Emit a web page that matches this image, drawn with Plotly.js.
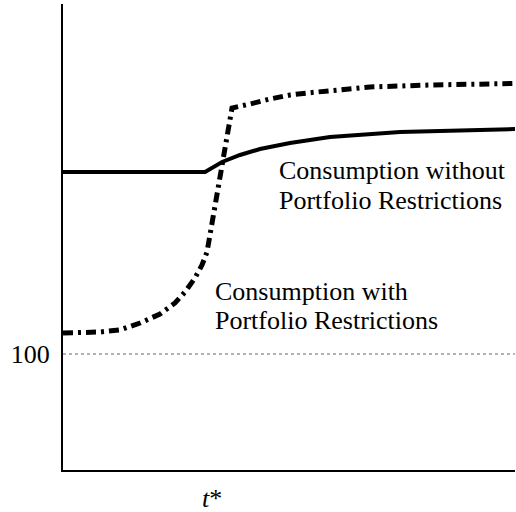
<!DOCTYPE html>
<html><head><meta charset="utf-8">
<script src="https://cdn.plot.ly/plotly-3.0.1.min.js"></script>
<style>html,body{margin:0;padding:0;background:#fff;}#chart{width:516px;height:512px;}</style>
</head><body><div id="chart"></div>
<script>
const timeWith = [0, 3.76, 8.19, 12.61, 17.04, 21.46, 24.78, 26.99, 29.20, 30.75, 31.86, 37.39, 38.72, 41.37, 45.80, 50.22, 54.65, 61.28, 67.92, 81.19, 100];
const consWith = [110.5, 110.5, 111, 112, 115.5, 120, 125.5, 131, 138, 144.5, 151, 223, 223.5, 225, 227.5, 229.5, 230.65, 232, 233.5, 234.5, 235.25];
const timeWithout = [0, 31.42, 35.2, 39.16, 43.58, 50.22, 59.07, 74.56, 100];
const consWithout = [191, 191, 196, 199.5, 202.5, 205.5, 208.5, 211, 212.5];
const refX = [0, 100];
const refY = [100, 100];
const tStar = 33;
const xTickVals = [tStar];
const xTickText = ['<i>t</i>*'];
const yTickVals = [100];
const yTickText = ['100'];

const font = "'Liberation Serif', 'Times New Roman', serif";
const traces = [
  {x: refX, y: refY, mode: 'lines', line: {color: '#666', width: 1, dash: 'dot'}, hoverinfo: 'skip'},
  {x: timeWithout, y: consWithout, mode: 'lines', line: {color: '#000', width: 4}},
  {x: timeWith, y: consWith, mode: 'lines', line: {color: '#000', width: 5, dash: '10px,5px,3px,5px'}}
];
const layout = {
  width: 516, height: 512,
  margin: {l: 63, r: 1, t: 4, b: 42},
  paper_bgcolor: '#fff', plot_bgcolor: '#fff',
  showlegend: false,
  font: {family: font, color: '#000', size: 26},
  xaxis: {range: [0, 100], showgrid: false, zeroline: false, showline: true, linecolor: '#000', linewidth: 2,
          tickvals: xTickVals, ticktext: xTickText, ticks: 'outside', ticklen: 4, tickcolor: 'rgba(0,0,0,0)',
          tickfont: {family: font, size: 26}},
  yaxis: {range: [42, 275], showgrid: false, zeroline: false, showline: true, linecolor: '#000', linewidth: 2,
          tickvals: yTickVals, ticktext: yTickText, ticks: 'outside', ticklen: 6, tickcolor: 'rgba(0,0,0,0)',
          tickfont: {family: font, size: 26}},
  annotations: [
    {x: 47.3, y: 192, xref: 'x', yref: 'y', text: 'Consumption without', showarrow: false, xanchor: 'left', yanchor: 'middle', font: {family: font, size: 26}},
    {x: 47.3, y: 177, xref: 'x', yref: 'y', text: 'Portfolio Restrictions', showarrow: false, xanchor: 'left', yanchor: 'middle', font: {family: font, size: 26}},
    {x: 33.2, y: 131.5, xref: 'x', yref: 'y', text: 'Consumption with', showarrow: false, xanchor: 'left', yanchor: 'middle', font: {family: font, size: 26}},
    {x: 33.2, y: 117, xref: 'x', yref: 'y', text: 'Portfolio Restrictions', showarrow: false, xanchor: 'left', yanchor: 'middle', font: {family: font, size: 26}}
  ]
};
Plotly.newPlot('chart', traces, layout, {displayModeBar: false, staticPlot: true});
</script></body></html>
